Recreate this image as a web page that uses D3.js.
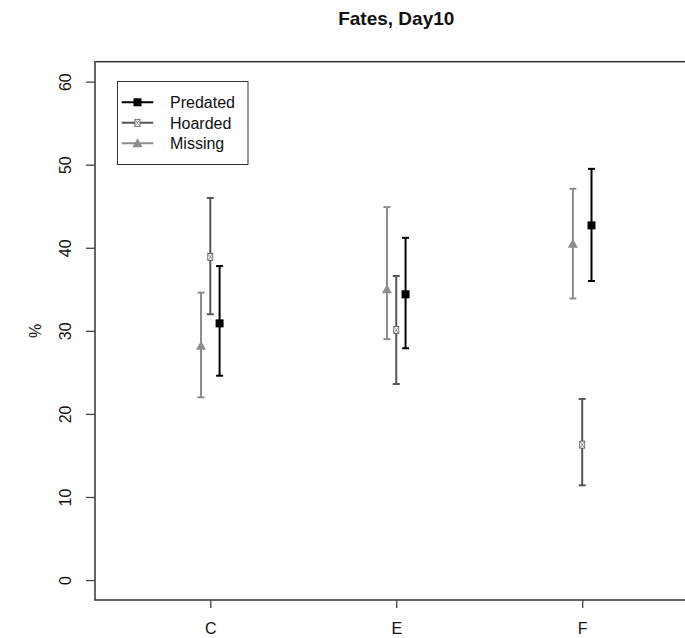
<!DOCTYPE html>
<html>
<head>
<meta charset="utf-8">
<script src="https://cdn.jsdelivr.net/npm/d3@7"></script>
<style>
  body { margin: 0; background: #fff; }
  text { font-family: "Liberation Sans", Arial, sans-serif; fill: #111; }
</style>
</head>
<body>
<script>
var svgWidth = 685;
var svgHeight = 638;

// data (percent)
var categories = ["C", "E", "F"];
var seriesNames = ["Predated", "Hoarded", "Missing"];
var predated = [30.9, 34.4, 42.7];
var predatedLo = [24.6, 27.9, 36.0];
var predatedHi = [37.8, 41.2, 49.5];
var hoarded = [38.9, 30.1, 16.3];
var hoardedLo = [32.0, 23.6, 11.4];
var hoardedHi = [46.0, 36.6, 21.8];
var missing = [28.2, 35.0, 40.5];
var missingLo = [22.0, 29.0, 33.9];
var missingHi = [34.6, 44.9, 47.1];
var yTicks = [0, 10, 20, 30, 40, 50, 60];

var series = [
    {name: "Predated", mean: predated, lo: predatedLo, hi: predatedHi, offset: 0.05, color: "#000", shape: "square"},
    {name: "Hoarded", mean: hoarded, lo: hoardedLo, hi: hoardedHi, offset: 0, color: "#555", shape: "boxx"},
    {name: "Missing", mean: missing, lo: missingLo, hi: missingHi, offset: -0.05, color: "#8c8c8c", shape: "triangle"}
];

var svg = d3.select("body")
    .append("svg")
    .attr("width", svgWidth)
    .attr("height", svgHeight);

// R style: xlim c(0.5,3.5), ylim c(0,60), each padded by 4%
var x = d3.scaleLinear().domain([0.38, 3.62]).range([95, 697.5]);
var y = d3.scaleLinear().domain([-2.4, 62.4]).range([600, 61.7]);

// title
svg.append("text")
    .attr("x", (x.range()[0] + x.range()[1]) / 2)
    .attr("y", 25)
    .attr("text-anchor", "middle")
    .style("font-size", "19px")
    .style("font-weight", "bold")
    .text("Fates, Day10");

// plot box
svg.append("rect")
    .attr("x", x.range()[0])
    .attr("y", y.range()[1])
    .attr("width", x.range()[1] - x.range()[0])
    .attr("height", y.range()[0] - y.range()[1])
    .attr("fill", "none")
    .attr("stroke", "#333")
    .attr("stroke-width", 1.5);

// axes
var bottomAxis = d3.axisBottom(x)
    .tickValues([1, 2, 3])
    .tickFormat(function(d) { return categories[d - 1]; })
    .tickSize(8);

var leftAxis = d3.axisLeft(y)
    .tickValues(yTicks)
    .tickSize(9);

var gx = svg.append("g")
    .attr("transform", "translate(0," + y.range()[0] + ")")
    .call(bottomAxis);
gx.select(".domain").remove();
gx.selectAll(".tick line").attr("stroke", "#444").attr("stroke-width", 1.3);
gx.selectAll(".tick text")
    .attr("dy", null)
    .attr("y", 34)
    .style("font-size", "16px")
    .style("font-family", "Liberation Sans, Arial, sans-serif")
    .attr("fill", "#111");

var gy = svg.append("g")
    .attr("transform", "translate(" + x.range()[0] + ",0)")
    .call(leftAxis);
gy.select(".domain").remove();
gy.selectAll(".tick line").attr("stroke", "#444").attr("stroke-width", 1.3);
gy.selectAll(".tick text")
    .attr("x", null)
    .attr("dy", null)
    .attr("text-anchor", "middle")
    .attr("transform", "translate(-24,0) rotate(-90)")
    .style("font-size", "16px")
    .style("font-family", "Liberation Sans, Arial, sans-serif")
    .attr("fill", "#111");

// y label
svg.append("text")
    .attr("transform", "translate(41," + ((y.range()[0] + y.range()[1]) / 2) + ") rotate(-90)")
    .attr("text-anchor", "middle")
    .style("font-size", "16px")
    .text("%");

function drawSymbol(g, shape, cx, cy, color) {
    if (shape === "square") {
        g.append("rect")
            .attr("x", cx - 4).attr("y", cy - 4)
            .attr("width", 8).attr("height", 8)
            .attr("fill", color);
    } else if (shape === "triangle") {
        g.append("path")
            .attr("d", "M" + cx + "," + (cy - 5) + "L" + (cx + 5) + "," + (cy + 4) + "L" + (cx - 5) + "," + (cy + 4) + "Z")
            .attr("fill", color);
    } else {
        g.append("rect")
            .attr("x", cx - 2.5).attr("y", cy - 3.5)
            .attr("width", 5).attr("height", 7)
            .attr("fill", "#fff")
            .attr("stroke", color).attr("stroke-width", 0.8);
        g.append("path")
            .attr("d", "M" + (cx - 2.5) + "," + (cy - 3.5) + "L" + (cx + 2.5) + "," + (cy + 3.5) +
                       "M" + (cx + 2.5) + "," + (cy - 3.5) + "L" + (cx - 2.5) + "," + (cy + 3.5))
            .attr("stroke", color).attr("stroke-width", 0.6);
    }
}

// error bars and points
series.forEach(function(s) {
    var g = svg.append("g").attr("class", "series-" + s.name);
    categories.forEach(function(c, i) {
        var cx = x(i + 1 + s.offset);
        g.append("line")
            .attr("x1", cx).attr("x2", cx)
            .attr("y1", y(s.lo[i])).attr("y2", y(s.hi[i]))
            .attr("stroke", s.color).attr("stroke-width", 2);
        [s.lo[i], s.hi[i]].forEach(function(v) {
            g.append("line")
                .attr("x1", cx - 3.5).attr("x2", cx + 3.5)
                .attr("y1", y(v)).attr("y2", y(v))
                .attr("stroke", s.color).attr("stroke-width", 2);
        });
        drawSymbol(g, s.shape, cx, y(s.mean[i]), s.color);
    });
});

// legend
var legend = svg.append("g");
legend.append("rect")
    .attr("x", 117.5).attr("y", 81.5)
    .attr("width", 130.5).attr("height", 83)
    .attr("fill", "#fff")
    .attr("stroke", "#333")
    .attr("stroke-width", 1);

series.forEach(function(s, i) {
    var ly = 102.3 + i * 20.5;
    legend.append("line")
        .attr("x1", 121.7).attr("x2", 153.3)
        .attr("y1", ly).attr("y2", ly)
        .attr("stroke", s.color).attr("stroke-width", 2);
    drawSymbol(legend, s.shape, 137.5, ly, s.color);
    legend.append("text")
        .attr("x", 170)
        .attr("y", ly + 6)
        .style("font-size", "16px")
        .text(seriesNames[i]);
});
</script>
</body>
</html>
